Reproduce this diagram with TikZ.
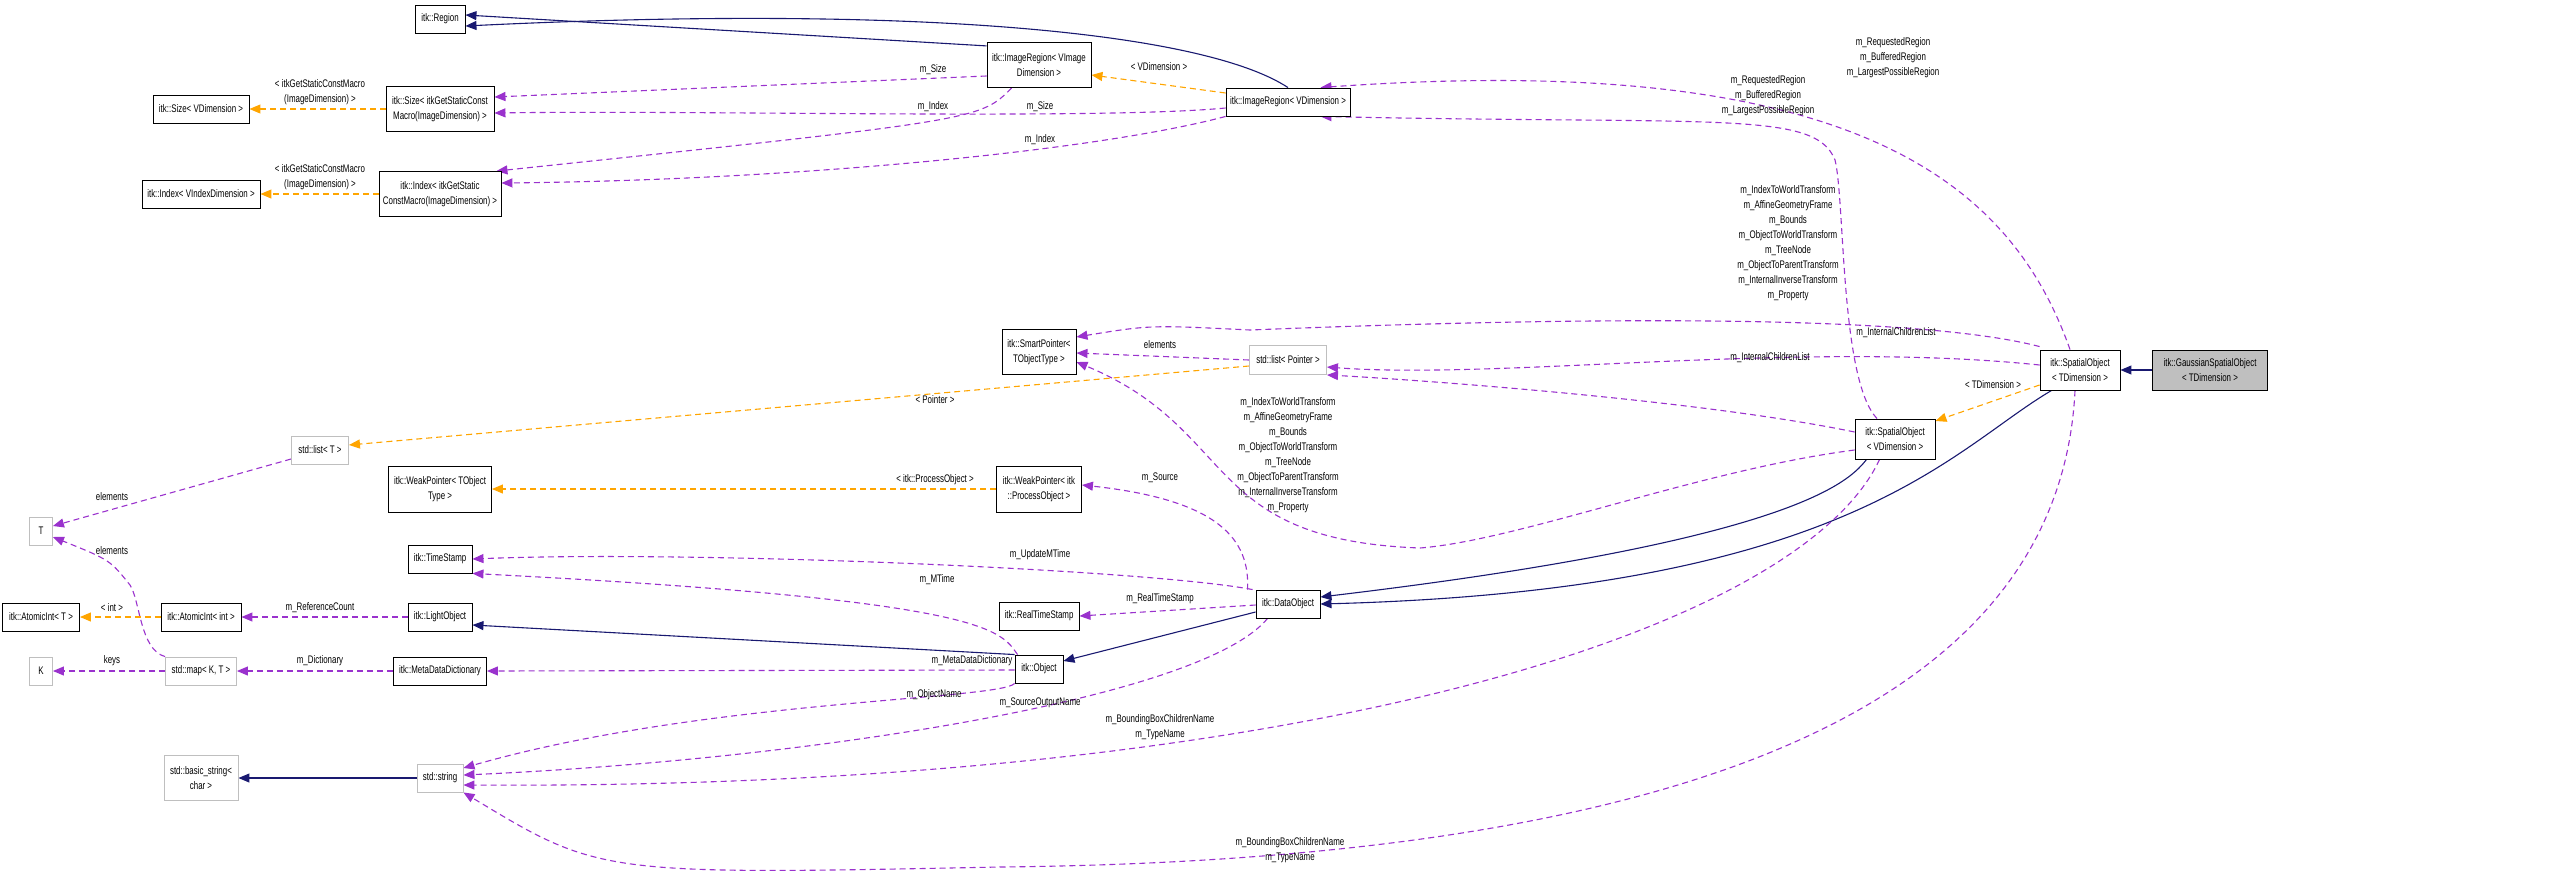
\documentclass[tikz,border=0pt]{standalone}
\usepackage{fontspec}
\setmainfont{Liberation Sans}[FakeStretch=0.72]
\usetikzlibrary{arrows.meta,calc}
\pgfdeclarelayer{bg}
\pgfsetlayers{bg,main}
\definecolor{nv}{HTML}{191970}
\definecolor{pu}{HTML}{9A32CD}
\definecolor{orn}{HTML}{FFA500}
\definecolor{gb}{HTML}{BFBFBF}
\begin{document}
\begin{tikzpicture}[x=1pt,y=-1pt,
  font=\fontsize{11}{15}\selectfont,
  box/.style={draw=black,line width=0.9pt,fill=white,align=center,inner sep=2pt},
  ubox/.style={draw=gb,line width=0.9pt,fill=white,align=center,inner sep=2pt},
  inh/.style={-{Triangle[length=11pt,width=9pt,fill=nv]},draw=nv,line width=1.1pt},
  use/.style={-{Triangle[length=11pt,width=9pt,fill=pu]},draw=pu,line width=1.1pt,dash pattern=on 6pt off 4pt},
  tpl/.style={-{Triangle[length=11pt,width=9pt,fill=orn]},draw=orn,line width=1.1pt,dash pattern=on 6pt off 4pt},
  lbl/.style={align=center,inner sep=0pt}]
\useasboundingbox (0,0) rectangle (2555,873);
% nodes
\node[box,minimum width=50,minimum height=28] (region) at (440,19) {itk::Region};
\node[box,minimum width=96,minimum height=28] (sizev) at (201,109) {itk::Size< VDimension >};
\node[box,minimum width=108,minimum height=45] (sizei) at (440,109) {itk::Size< itkGetStaticConst\\Macro(ImageDimension) >};
\node[box,minimum width=118,minimum height=28] (indexv) at (201,194) {itk::Index< VIndexDimension >};
\node[box,minimum width=122,minimum height=45] (indexi) at (440,194) {itk::Index< itkGetStatic\\ConstMacro(ImageDimension) >};
\node[box,minimum width=104,minimum height=45] (irvi) at (1039,65) {itk::ImageRegion< VImage\\Dimension >};
\node[box,minimum width=124,minimum height=28] (irv) at (1288,102) {itk::ImageRegion< VDimension >};
\node[box,minimum width=74,minimum height=45] (sp) at (1039,352) {itk::SmartPointer<\\TObjectType >};
\node[ubox,minimum width=77,minimum height=29] (lp) at (1288,360) {std::list< Pointer >};
\node[ubox,minimum width=57,minimum height=28] (lt) at (320,450) {std::list< T >};
\node[box,minimum width=103,minimum height=46] (wpt) at (440,489) {itk::WeakPointer< TObject\\Type >};
\node[box,minimum width=85,minimum height=46] (wpp) at (1039,489) {itk::WeakPointer< itk\\::ProcessObject >};
\node[ubox,minimum width=23,minimum height=28] (T) at (41,531) {T};
\node[box,minimum width=64,minimum height=28] (ts) at (440,559) {itk::TimeStamp};
\node[box,minimum width=80,minimum height=28] (rts) at (1039,616) {itk::RealTimeStamp};
\node[box,minimum width=77,minimum height=28] (ait) at (41,617) {itk::AtomicInt< T >};
\node[box,minimum width=80,minimum height=28] (aii) at (201,617) {itk::AtomicInt< int >};
\node[box,minimum width=64,minimum height=28] (lo) at (440,617) {itk::LightObject};
\node[box,minimum width=64,minimum height=28] (do) at (1288,604) {itk::DataObject};
\node[ubox,minimum width=23,minimum height=28] (K) at (41,671) {K};
\node[ubox,minimum width=71,minimum height=28] (map) at (201,671) {std::map< K, T >};
\node[box,minimum width=93,minimum height=28] (mdd) at (440,671) {itk::MetaDataDictionary};
\node[box,minimum width=48,minimum height=28] (obj) at (1039,669) {itk::Object};
\node[ubox,minimum width=74,minimum height=45] (bs) at (201,778) {std::basic\_string<\\char >};
\node[ubox,minimum width=46,minimum height=28] (str) at (440,778) {std::string};
\node[box,minimum width=80,minimum height=40] (sov) at (1895,439) {itk::SpatialObject\\< VDimension >};
\node[box,minimum width=80,minimum height=40] (sot) at (2080,370) {itk::SpatialObject\\< TDimension >};
\node[draw=black,line width=0.9pt,fill=gb,align=center,inner sep=2pt,minimum width=115,minimum height=40] (gso) at (2210,370) {itk::GaussianSpatialObject\\< TDimension >};
% labels
\node[lbl] at (933,70) {m\_Size};
\node[lbl] at (933,107) {m\_Index};
\node[lbl] at (1040,107) {m\_Size};
\node[lbl] at (1040,140) {m\_Index};
\node[lbl] at (1159,67) {< VDimension >};
\node[lbl] at (320,92) {< itkGetStaticConstMacro\\(ImageDimension) >};
\node[lbl] at (320,177) {< itkGetStaticConstMacro\\(ImageDimension) >};
\node[lbl] at (1893,58) {m\_RequestedRegion\\m\_BufferedRegion\\m\_LargestPossibleRegion};
\node[lbl] at (1768,96) {m\_RequestedRegion\\m\_BufferedRegion\\m\_LargestPossibleRegion};
\node[lbl] at (1788,243) {m\_IndexToWorldTransform\\m\_AffineGeometryFrame\\m\_Bounds\\m\_ObjectToWorldTransform\\m\_TreeNode\\m\_ObjectToParentTransform\\m\_InternalInverseTransform\\m\_Property};
\node[lbl] at (1896,333) {m\_InternalChildrenList};
\node[lbl] at (1770,358) {m\_InternalChildrenList};
\node[lbl] at (1288,455) {m\_IndexToWorldTransform\\m\_AffineGeometryFrame\\m\_Bounds\\m\_ObjectToWorldTransform\\m\_TreeNode\\m\_ObjectToParentTransform\\m\_InternalInverseTransform\\m\_Property};
\node[lbl] at (1160,345) {elements};
\node[lbl] at (935,400) {< Pointer >};
\node[lbl] at (112,497) {elements};
\node[lbl] at (112,551) {elements};
\node[lbl] at (112,661) {keys};
\node[lbl] at (112,608) {< int >};
\node[lbl] at (320,608) {m\_ReferenceCount};
\node[lbl] at (320,661) {m\_Dictionary};
\node[lbl] at (972,661) {m\_MetaDataDictionary};
\node[lbl] at (937,580) {m\_MTime};
\node[lbl] at (934,695) {m\_ObjectName};
\node[lbl] at (1040,555) {m\_UpdateMTime};
\node[lbl] at (1160,599) {m\_RealTimeStamp};
\node[lbl] at (1160,478) {m\_Source};
\node[lbl] at (1040,703) {m\_SourceOutputName};
\node[lbl] at (935,480) {< itk::ProcessObject >};
\node[lbl] at (1160,727) {m\_BoundingBoxChildrenName\\m\_TypeName};
\node[lbl] at (1290,850) {m\_BoundingBoxChildrenName\\m\_TypeName};
\node[lbl] at (1993,385) {< TDimension >};
% edges
\begin{pgfonlayer}{bg}
\draw[inh] (irvi.160) -- (region.east|-0,15);
\draw[inh] (irv.north) .. controls (1200,30) and (900,5) .. (region.east|-0,26);
\draw[use] (irvi.west|-0,76) -- (sizei.east|-0,97);
\draw[use] ($(irvi.south west)+(25,0)$) .. controls (980,120) .. ($(indexi.north east)+(-5,0)$);
\draw[use] (irv.west|-0,108) .. controls (1100,120) and (700,110) .. (sizei.east|-0,113);
\draw[use] (irv.south west) .. controls (1100,150) and (800,180) .. (indexi.east|-0,183);
\draw[tpl] (irv.west|-0,93) -- (irvi.east|-0,75);
\draw[tpl] (sizei.west) -- (sizev.east);
\draw[tpl] (indexi.west) -- (indexv.east);
\draw[use] ($(sot.north)+(-10,0)$) .. controls (2010,180) and (1850,50) .. ($(irv.north east)+(-30,0)$);
\draw[use] ($(sov.north)+(-18,0)$) .. controls (1840,380) and (1845,200) .. (1835,160) .. controls (1815,110) and (1720,125) .. ($(irv.south east)+(-30,0)$);
\draw[use] ($(sot.north west)+(0,-3)$) .. controls (1900,310) and (1500,320) .. (1250,330) .. controls (1150,325) .. (sp.east|-0,337);
\draw[use] (sot.west|-0,365) .. controls (1800,340) and (1500,380) .. (lp.east|-0,367);
\draw[use] (sov.west|-0,432) .. controls (1700,400) and (1420,380) .. (lp.south east);
\draw[use] (sov.west|-0,450) .. controls (1700,470) and (1520,540) .. (1420,548) .. controls (1200,540) and (1240,430) .. (sp.east|-0,362);
\draw[use] (lp.west) -- (sp.east|-0,353);
\draw[tpl] (lp.west|-0,366) -- (lt.east|-0,445);
\draw[use] (lt.west|-0,459) -- (T.east|-0,526);
\draw[use] (map.north west) .. controls (140,650) and (140,600) .. (130,585) .. controls (110,560) .. (T.east|-0,537);
\draw[use] (map.west) -- (K.east);
\draw[tpl] (aii.west) -- (ait.east);
\draw[use] (lo.west) -- (aii.east);
\draw[use] (mdd.west) -- (map.east);
\draw[use] (obj.west|-0,670) -- (mdd.east);
\draw[inh] (obj.north west) -- (lo.east|-0,625);
\draw[use] ($(obj.north west)+(3,0)$) .. controls (1000,630) and (990,600) .. (ts.south east);
\draw[use] (obj.south west) .. controls (1000,700) and (700,700) .. (str.east|-0,768);
\draw[inh] (do.west|-0,612) -- (obj.east|-0,661);
\draw[use] ($(do.north west)+(-3,0)$) .. controls (1150,570) and (700,550) .. (ts.east|-0,559);
\draw[use] (do.west|-0,605) -- (rts.east);
\draw[use] ($(do.north west)+(-8,0)$) .. controls (1250,540) and (1220,500) .. (wpp.east|-0,485);
\draw[use] ($(do.south west)+(12,0)$) .. controls (1200,700) and (800,760) .. (str.east|-0,775);
\draw[tpl] (wpp.west) -- (wpt.east);
\draw[inh] ($(sov.south west)+(12,0)$) .. controls (1850,480) and (1800,540) .. (do.east|-0,597);
\draw[inh] ($(sot.south west)+(12,0)$) .. controls (1950,450) and (1850,590) .. (do.east|-0,604);
\draw[use] ($(sov.south west)+(25,0)$) .. controls (1800,630) and (1300,790) .. (str.east|-0,785);
\draw[use] ($(sot.south)+(-5,0)$) .. controls (2060,700) and (1700,860) .. (1000,867) .. controls (600,875) .. (str.south east);
\draw[tpl] (sot.west|-0,385) -- (sov.east|-0,421);
\draw[inh] (gso.west) -- (sot.east);
\draw[inh] (str.west) -- (bs.east);
\end{pgfonlayer}
\end{tikzpicture}
\end{document}
